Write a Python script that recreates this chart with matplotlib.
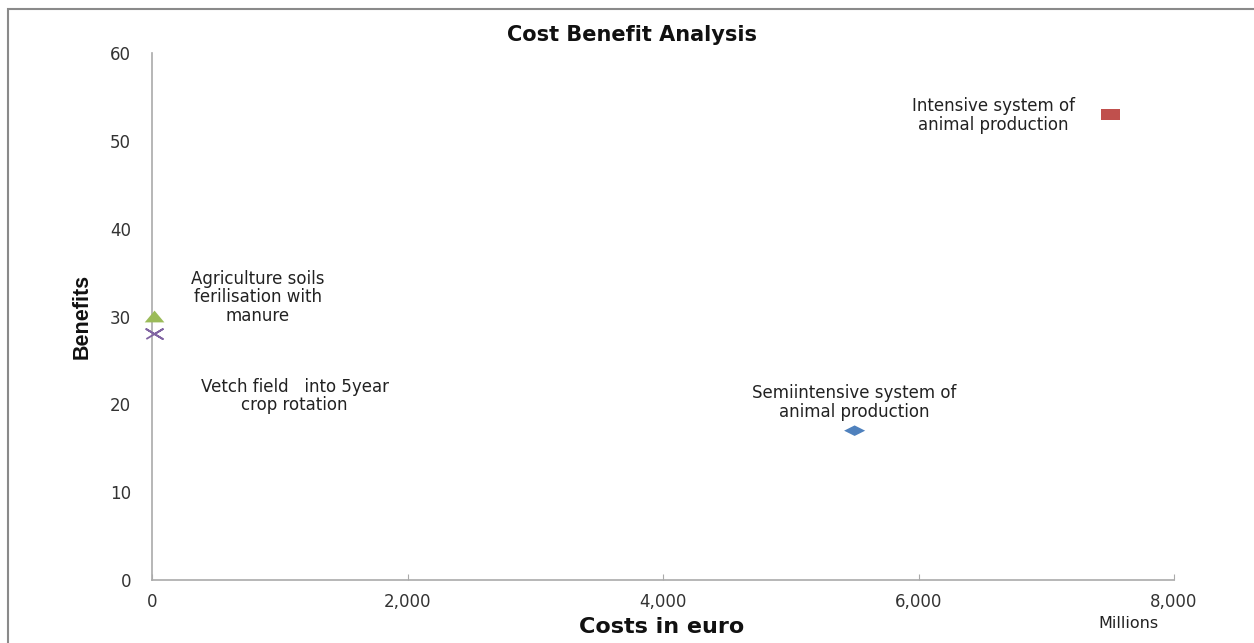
import matplotlib
matplotlib.use("Agg")
import matplotlib.pyplot as plt
from matplotlib.patches import Rectangle

# Cost (millions of euro) and benefit score for each measure
names = [
    "Semiintensive system of\nanimal production",
    "Intensive system of\nanimal production",
    "Agriculture soils\nferilisation with\nmanure",
    "Vetch field   into 5year\ncrop rotation",
]
costs = [5500, 7500, 20, 20]
benefits = [17, 53, 30, 28]

colors = ["#4F81BD", "#C0504D", "#9BBB59", "#8064A2"]
# squashed marker shapes
diamond = [(-1, 0), (0, 0.5), (1, 0), (0, -0.5), (-1, 0)]
rect = [(-1, -0.55), (1, -0.55), (1, 0.55), (-1, 0.55), (-1, -0.55)]
tri = [(-1, -0.6), (0, 0.6), (1, -0.6), (-1, -0.6)]
cross = [(-1, -0.6), (1, 0.6), (0, 0), (-1, 0.6), (1, -0.6), (0, 0)]
markers = [diamond, rect, tri, cross]
filled = [True, True, True, False]
sizes = [230, 190, 200, 140]
label_offsets = [(0, 28), (-117, -1), (103, 19), (140, -62)]

plt.rcParams["font.family"] = ["DejaVu Sans"]

W, H = 1254, 643
fig = plt.figure(figsize=(W / 100, H / 100), dpi=100)
ax = fig.add_axes([152 / W, (H - 580) / H, (1174 - 152) / W, (580 - 53) / H])

for x, y, c, m, f, s, name, off in zip(costs, benefits, colors, markers, filled,
                                        sizes, names, label_offsets):
    if f:
        ax.scatter([x], [y], marker=m, s=s, color=c, edgecolors="none", zorder=3,
                   clip_on=False)
    else:
        ax.scatter([x], [y], marker=m, s=s, facecolors="none", edgecolors=c,
                   linewidths=1.3, zorder=3, clip_on=False)
    ax.annotate(name, (x, y), xytext=off, textcoords="offset pixels",
                ha="center", va="center", fontsize=12, color="#222222",
                linespacing=1.05)

ax.set_xlim(0, 8000)
ax.set_ylim(0, 60)
ax.set_xticks([0, 2000, 4000, 6000, 8000])
ax.set_xticklabels(["0", "2,000", "4,000", "6,000", "8,000"])
ax.set_yticks(range(0, 61, 10))

for s in ["top", "right"]:
    ax.spines[s].set_visible(False)
for s in ["left", "bottom"]:
    ax.spines[s].set_color("#AAAAAA")
    ax.spines[s].set_linewidth(1.2)

ax.tick_params(axis="x", direction="in", length=4, color="#AAAAAA",
               labelsize=12, labelcolor="#333333", pad=9.5)
ax.tick_params(axis="y", length=0, labelsize=12, labelcolor="#333333", pad=15)

fig.text(632 / W, 1 - 35 / H, "Cost Benefit Analysis", ha="center", va="center",
         fontsize=15, fontweight="bold", color="#111111")
fig.text(662 / W, 1 - 627 / H, "Costs in euro", ha="center", va="center",
         fontsize=16, fontweight="bold", color="#111111")
fig.text(1128 / W, 1 - 624 / H, "Millions", ha="center", va="center",
         fontsize=11.5, color="#222222")
fig.text(82 / W, 1 - 316 / H, "Benefits", ha="center", va="center", rotation=90,
         fontsize=15.5, fontweight="bold", color="#111111",
         family=["Liberation Sans Narrow", "Liberation Sans", "DejaVu Sans"])

# chart area border
fig.patches.append(Rectangle((8 / W, -0.1), 1.2, 1.1 - 9 / H,
                             transform=fig.transFigure, fill=False,
                             edgecolor="#8A8A8A", linewidth=1.5, zorder=0))

fig.savefig("out.png", dpi=100, facecolor="white")
